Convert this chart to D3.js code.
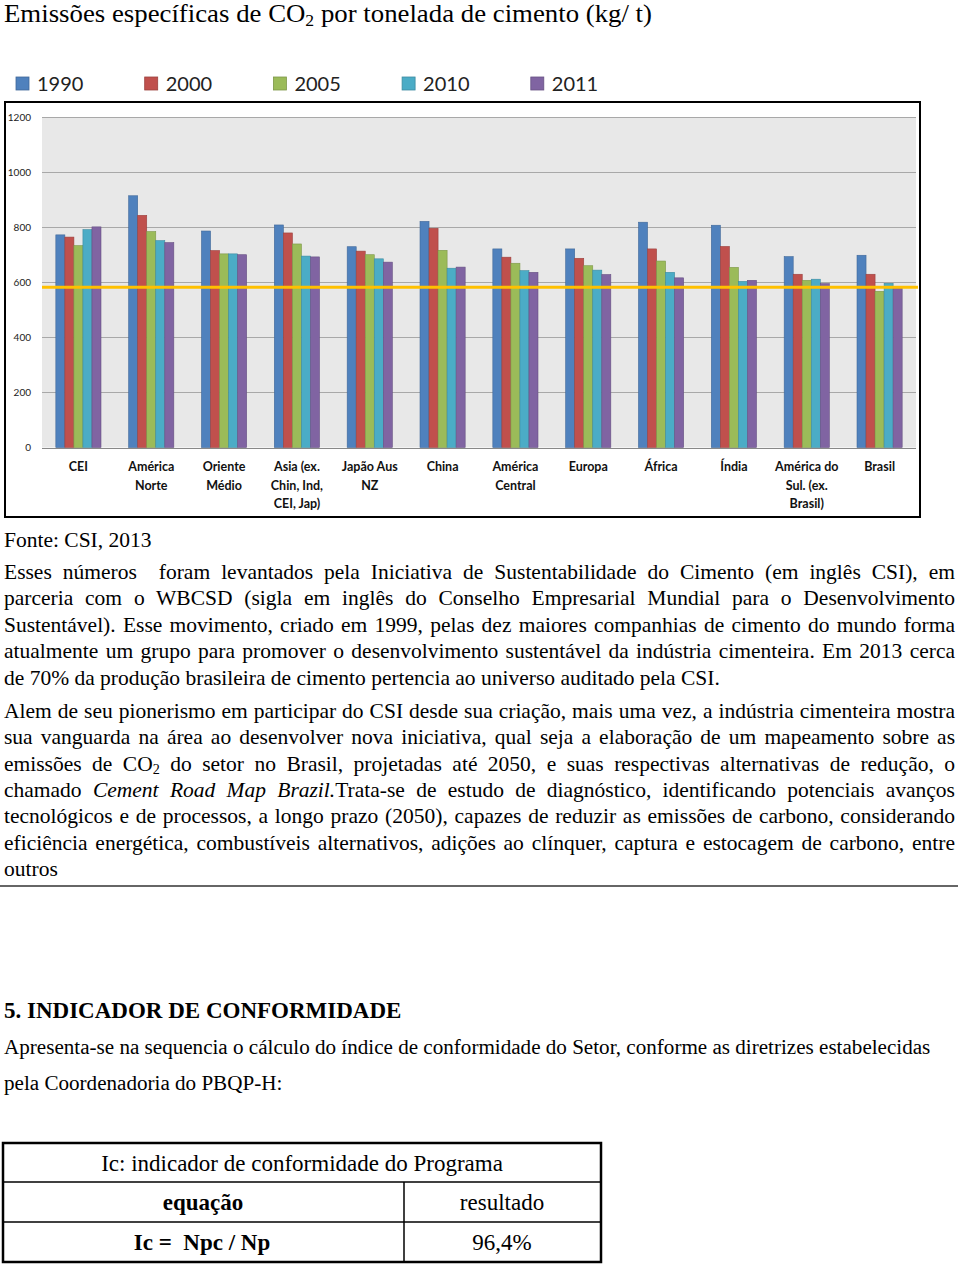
<!DOCTYPE html>
<html>
<head>
<meta charset="utf-8">
<script src="https://cdn.jsdelivr.net/npm/d3@7"></script>
<style>
  body { margin: 0; background: #fff; }
  svg { display: block; }
  .serif { font-family: "Liberation Serif", Tinos, "Times New Roman", Times, serif; fill: #000; white-space: pre; }
  .cat { font-family: Lato, "Open Sans", sans-serif; font-weight: bold; font-size: 12.5px; fill: #111; }
  .ytick text { font-family: Lato, "Open Sans", sans-serif; font-size: 10px; fill: #222; }
</style>
</head>
<body>
<svg id="page" width="960" height="1266"></svg>
<script>
// --- data ---
var categories = ["CEI", "América Norte", "Oriente Médio", "Asia (ex. Chin, Ind, CEI, Jap)",
    "Japão Aus NZ", "China", "América Central", "Europa", "África", "Índia",
    "América do Sul. (ex. Brasil)", "Brasil"];
var catLines = [["CEI"], ["América", "Norte"], ["Oriente", "Médio"], ["Asia (ex.", "Chin, Ind,", "CEI, Jap)"],
    ["Japão Aus", "NZ"], ["China"], ["América", "Central"], ["Europa"], ["África"], ["Índia"],
    ["América do", "Sul. (ex.", "Brasil)"], ["Brasil"]];
var years = ["1990", "2000", "2005", "2010", "2011"];
var v1990 = [772, 914, 786, 808, 729, 821, 721, 721, 818, 807, 693, 698];
var v2000 = [764, 843, 715, 779, 713, 796, 691, 687, 721, 730, 629, 629];
var v2005 = [733, 784, 703, 739, 700, 716, 669, 660, 677, 654, 607, 567];
var v2010 = [791, 751, 703, 695, 685, 651, 642, 644, 636, 603, 611, 596];
var v2011 = [801, 744, 700, 692, 673, 655, 636, 628, 616, 607, 595, 580];
var target = 582;
var yTicks = [0, 200, 400, 600, 800, 1000, 1200];
var colors = ["#4f81bd", "#c0504d", "#9bbb59", "#4bacc6", "#8064a2"];

var series = [v1990, v2000, v2005, v2010, v2011];

var svg = d3.select("#page");

// one line of text; if w is given the line is justified by widening the spaces
function line(x, y, w, size, parts, opts) {
    opts = opts || {};
    var t = svg.append("text").attr("class", "serif")
        .attr("x", x).attr("y", y)
        .attr("font-family", "Liberation Serif")
        .style("font-size", size + "px")
        .style("font-weight", opts.bold ? "bold" : null);
    if (opts.anchor) t.attr("text-anchor", opts.anchor);
    parts.forEach(function (p) {
        if (typeof p === "string") { t.append("tspan").text(p); return; }
        var s = t.append("tspan").text(p.t);
        if (p.it) s.style("font-style", "italic");
        if (p.sub) s.attr("baseline-shift", "-22%").style("font-size", (size * 0.66) + "px");
    });
    if (w && opts.stretch) {
        t.attr("textLength", w).attr("lengthAdjust", "spacingAndGlyphs");
    } else if (w) {
        var txt = parts.map(function (p) { return typeof p === "string" ? p : p.t; }).join("");
        var gaps = (txt.match(/ /g) || []).length;
        var nat = t.node().getComputedTextLength();
        if (gaps) t.style("word-spacing", ((w - nat) / gaps) + "px");
    }
    return t;
}

// --- title ---
line(4, 22, 648, 25, ["Emissões específicas de CO", {t: "2", sub: true}, " por tonelada de cimento (kg/ t)"], {stretch: true});

// --- chart ---
var plot = {left: 42, right: 916, top: 117, bottom: 447.5};

svg.append("rect").attr("x", 5).attr("y", 102).attr("width", 915).attr("height", 415)
    .attr("fill", "#fff").attr("stroke", "#000").attr("stroke-width", 2);

var x0 = d3.scaleBand().domain(categories).range([plot.left, plot.right])
    .paddingInner(0.38).paddingOuter(0.19);
var x1 = d3.scaleBand().domain(years).range([0, x0.bandwidth()]);
var y = d3.scaleLinear().domain([0, 1200]).range([plot.bottom, plot.top]);

svg.append("rect").attr("x", plot.left).attr("y", plot.top)
    .attr("width", plot.right - plot.left).attr("height", plot.bottom - plot.top)
    .attr("fill", "#e8e8e8");

svg.append("g").selectAll("line").data(yTicks).join("line")
    .attr("x1", plot.left).attr("x2", plot.right)
    .attr("y1", function (d) { return Math.round(y(d)) + 0.5; })
    .attr("y2", function (d) { return Math.round(y(d)) + 0.5; })
    .attr("stroke", function (d) { return d === 0 ? "#888" : "#a8a8a8"; })
    .attr("stroke-width", 1);

var yAxis = svg.append("g").attr("class", "ytick")
    .attr("transform", "translate(" + plot.left + ",0)")
    .call(d3.axisLeft(y).tickValues(yTicks).tickSize(0).tickPadding(11).tickFormat(d3.format("d")));
yAxis.select(".domain").remove();

var groups = svg.append("g").selectAll("g").data(categories).join("g")
    .attr("transform", function (d) { return "translate(" + x0(d) + ",0)"; });

groups.selectAll("rect")
    .data(function (d, i) { return years.map(function (yr, k) { return {yr: yr, k: k, v: series[k][i]}; }); })
    .join("rect")
    .attr("x", function (d) { return x1(d.yr); })
    .attr("width", x1.bandwidth())
    .attr("y", function (d) { return y(d.v); })
    .attr("height", function (d) { return y(0) - y(d.v); })
    .attr("fill", function (d) { return colors[d.k]; })
    .attr("stroke", function (d) { return d3.color(colors[d.k]).darker(0.6); })
    .attr("stroke-width", 0.6);

// target line
svg.append("line")
    .attr("x1", plot.left).attr("x2", 918)
    .attr("y1", y(target)).attr("y2", y(target))
    .attr("stroke", "#ffc000").attr("stroke-width", 3);

// category labels
groups.each(function (d, i) {
    var g = d3.select(this);
    catLines[i].forEach(function (ln, j) {
        g.append("text").attr("class", "cat")
            .attr("x", x0.bandwidth() / 2).attr("y", 471 + j * 18.5)
            .attr("text-anchor", "middle").text(ln);
    });
});

// legend
var leg = svg.append("g").selectAll("g").data(years).join("g")
    .attr("transform", function (d, i) { return "translate(" + (16 + i * 128.7) + ",77)"; });
leg.append("rect").attr("width", 13).attr("height", 13)
    .attr("fill", function (d, i) { return colors[i]; })
    .attr("stroke", function (d, i) { return d3.color(colors[i]).darker(0.6); })
    .attr("stroke-width", 0.8);
leg.append("text").attr("x", 21).attr("y", 13.5)
    .style("font-family", "Lato, 'Open Sans', sans-serif").style("font-size", "20px")
    .attr("fill", "#222").text(function (d) { return d; });

// --- body text ---
var fs = 21.5;
line(4, 547, null, fs, ["Fonte: CSI, 2013"]);

var p1 = [
    "Esses números  foram levantados pela Iniciativa de Sustentabilidade do Cimento (em inglês CSI), em",
    "parceria com o WBCSD (sigla em inglês do Conselho Empresarial Mundial para o Desenvolvimento",
    "Sustentável). Esse movimento, criado em 1999, pelas dez maiores companhias de cimento do mundo forma",
    "atualmente um grupo para promover o desenvolvimento sustentável da indústria cimenteira. Em 2013 cerca"
];
p1.forEach(function (s, i) { line(4, 579 + i * 26.4, 951, fs, [s]); });
line(4, 685, null, fs, ["de 70% da produção brasileira de cimento pertencia ao universo auditado pela CSI."]);

var p2 = [
    ["Alem de seu pionerismo em participar do CSI desde sua criação, mais uma vez, a indústria cimenteira mostra"],
    ["sua vanguarda na área ao desenvolver nova iniciativa, qual seja a elaboração de um mapeamento sobre as"],
    ["emissões de CO", {t: "2", sub: true}, " do setor no Brasil, projetadas até 2050, e suas respectivas alternativas de redução, o"],
    ["chamado ", {t: "Cement Road Map Brazil.", it: true}, "Trata-se de estudo de diagnóstico, identificando potenciais avanços"],
    ["tecnológicos e de processos, a longo prazo (2050), capazes de reduzir as emissões de carbono, considerando"],
    ["eficiência energética, combustíveis alternativos, adições ao clínquer, captura e estocagem de carbono, entre"]
];
p2.forEach(function (s, i) { line(4, 718 + i * 26.3, 951, fs, s); });
line(4, 876, null, fs, ["outros"]);

svg.append("line").attr("x1", 0).attr("x2", 958).attr("y1", 886).attr("y2", 886)
    .attr("stroke", "#333").attr("stroke-width", 1.5);

line(4, 1018, null, 23, ["5. INDICADOR DE CONFORMIDADE"], {bold: true});
line(4, 1054, null, 21.1, ["Apresenta-se na sequencia o cálculo do índice de conformidade do Setor, conforme as diretrizes estabelecidas"]);
line(4, 1090, null, 21.1, ["pela Coordenadoria do PBQP-H:"]);

// --- table ---
var tbl = svg.append("g");
tbl.append("rect").attr("x", 3).attr("y", 1143).attr("width", 598).attr("height", 119)
    .attr("fill", "none").attr("stroke", "#000").attr("stroke-width", 2.5);
[1182, 1222].forEach(function (yy) {
    tbl.append("line").attr("x1", 3).attr("x2", 601).attr("y1", yy).attr("y2", yy)
        .attr("stroke", "#000").attr("stroke-width", 1.5);
});
tbl.append("line").attr("x1", 404).attr("x2", 404).attr("y1", 1182).attr("y2", 1262)
    .attr("stroke", "#000").attr("stroke-width", 1.5);

line(302, 1171, null, 23, ["Ic: indicador de conformidade do Programa"], {anchor: "middle"});
line(203, 1210, null, 23, ["equação"], {bold: true, anchor: "middle"});
line(502, 1210, null, 23, ["resultado"], {anchor: "middle"});
line(202, 1250, null, 23, ["Ic =  Npc / Np"], {bold: true, anchor: "middle"});
line(502, 1250, null, 23, ["96,4%"], {anchor: "middle"});
</script>
</body>
</html>
